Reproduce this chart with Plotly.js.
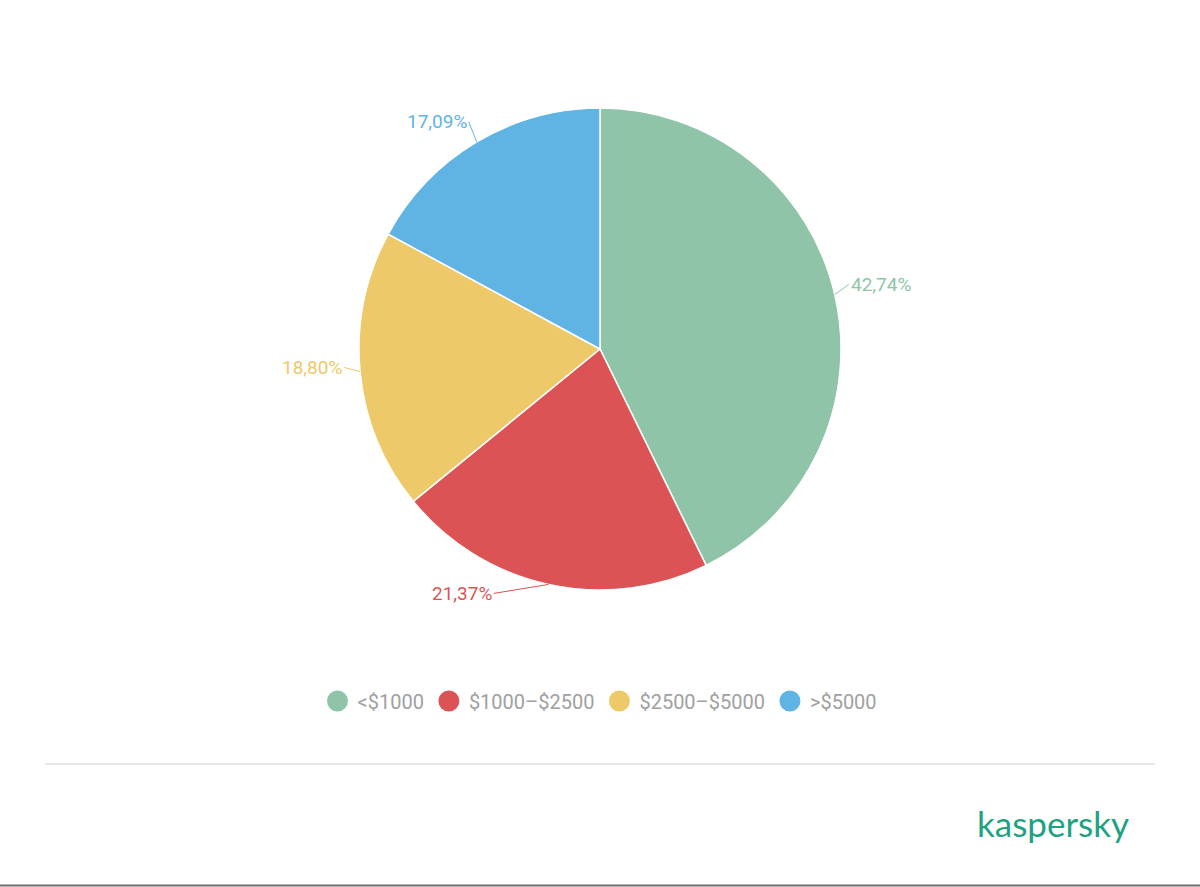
<!DOCTYPE html>
<html>
<head>
<meta charset="utf-8">
<script src="https://cdn.plot.ly/plotly-3.0.1.min.js"></script>
<style>html,body{margin:0;padding:0;background:#fff;}#chart{width:1200px;height:887px;}</style>
</head>
<body>
<div id="chart"></div>
<script>
// ---- data ----
const categories = ['<$1000', '$1000–$2500', '$2500–$5000', '>$5000'];
const shares = [42.74, 21.37, 18.80, 17.09];
const sliceColors = ['#8FC4A8', '#DB5354', '#EDC96A', '#60B4E3'];
// label offsets (px) from the slice edge midpoint: [ax, ay, xanchor]
const labelOffsets = [[14, -10, 'left'], [-55, 9, 'right'], [-16, -4, 'right'], [-8, -20, 'right']];

const W = 1200, H = 887, mT = 108, mB = 297;
const plotH = H - mT - mB;           // 482
const R = plotH / 2;                  // pie radius in px
const total = shares.reduce((a, b) => a + b, 0);
const py2paper = p => (mT + plotH - p) / plotH;

const fmt = v => v.toFixed(2).replace('.', ',') + '%';

const traces = [{
  type: 'pie',
  labels: categories,
  values: shares,
  sort: false,
  direction: 'clockwise',
  rotation: 0,
  marker: {colors: sliceColors, line: {color: '#ffffff', width: 1.5}},
  textinfo: 'none',
  hoverinfo: 'label+percent',
  showlegend: false,
  domain: {x: [0, 1], y: [0, 1]}
}];
categories.forEach((c, i) => {
  traces.push({
    type: 'scatter', mode: 'markers', x: [null], y: [null], name: c,
    marker: {color: sliceColors[i], size: 16, symbol: 'circle',
             line: {color: sliceColors[i], width: 5}},
    showlegend: true, hoverinfo: 'skip'
  });
});

const annotations = [];
let acc = 0;
shares.forEach((v, i) => {
  const mid = (acc + v / 2) / total * 2 * Math.PI;
  acc += v;
  const px = W / 2 + R * Math.sin(mid);
  const py = R * Math.cos(mid);
  const off = labelOffsets[i];
  annotations.push({
    xref: 'paper', yref: 'paper',
    x: px / W, y: 0.5 + py / plotH,
    text: fmt(v),
    showarrow: true, arrowhead: 0, arrowwidth: 1, arrowcolor: sliceColors[i],
    ax: off[0], ay: off[1], xanchor: off[2], yanchor: 'middle',
    standoff: 0, startstandoff: 0,
    font: {family: 'Roboto', size: 19, color: sliceColors[i]}
  });
});
annotations.push({
  xref: 'paper', yref: 'paper',
  x: 1131 / W, y: py2paper(823),
  text: 'kaspersky', showarrow: false, xanchor: 'right', yanchor: 'middle',
  font: {family: 'Lato', size: 35, color: '#1FA281'}
});

const layout = {
  width: W, height: H,
  margin: {l: 0, r: 0, t: mT, b: mB},
  paper_bgcolor: '#ffffff', plot_bgcolor: '#ffffff',
  xaxis: {visible: false}, yaxis: {visible: false},
  showlegend: true,
  legend: {
    orientation: 'h', x: 0.5, xanchor: 'center',
    y: py2paper(701), yanchor: 'middle',
    font: {family: 'Roboto', size: 20, color: '#A0A0A0'},
    itemclick: false, itemdoubleclick: false
  },
  annotations: annotations,
  shapes: [
    {type: 'line', xref: 'paper', yref: 'paper', x0: 45 / W, x1: 1155 / W,
     y0: py2paper(764), y1: py2paper(764),
     line: {color: '#E6E6E6', width: 2}},
    {type: 'line', xref: 'paper', yref: 'paper', x0: 0, x1: 1,
     y0: py2paper(885.5), y1: py2paper(885.5),
     line: {color: '#6E6E6E', width: 2}}
  ]
};

Plotly.newPlot('chart', traces, layout, {displayModeBar: false, staticPlot: true});
</script>
</body>
</html>
